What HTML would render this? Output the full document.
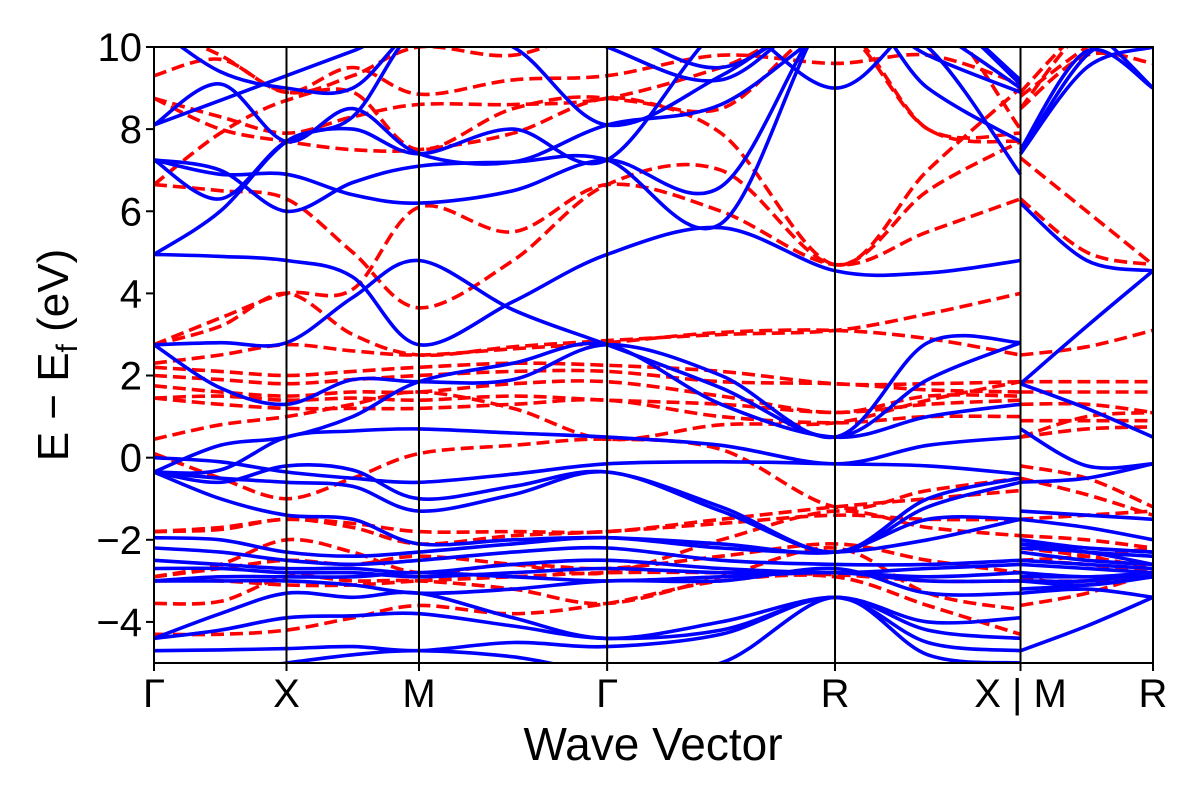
<!DOCTYPE html>
<html><head><meta charset="utf-8"><style>
body{margin:0;background:#fff;}
svg{display:block;font-family:"Liberation Sans","DejaVu Sans",sans-serif;}
</style></head><body>
<svg id="chart" width="1200" height="800" viewBox="0 0 1200 800" xmlns="http://www.w3.org/2000/svg">
<defs><clipPath id="plotclip"><rect x="154" y="47" width="999" height="616"/></clipPath></defs>
<rect x="0" y="0" width="1200" height="800" fill="#fff"/>
<g id="bands" clip-path="url(#plotclip)"></g>
<g id="vlines"></g>
<rect x="154" y="47" width="999" height="616" fill="none" stroke="#000" stroke-width="2"/>
<g id="yaxis"></g>
<g id="xaxis"></g>
<text x="653" y="760" font-size="46" text-anchor="middle">Wave Vector</text>
<text transform="translate(68,355) rotate(-90)" font-size="44" text-anchor="middle">E − E<tspan font-size="30" dy="9">f</tspan><tspan dy="-9"> (eV)</tspan></text>
</svg>
<script>
// k-path (two disconnected paths; break between index 10 and 11)
const kTicks = ["Γ","X","M","Γ","R","X | M","R"];
const kTickPos = [0,1,2,3.42,5.14,6.54,7.54];
const kPath = [0,0.5,1,1.5,2,2.71,3.42,4.28,5.14,5.84,6.54,6.54,7.04,7.54];
const yTicks = [10,8,6,4,2,0,-2,-4];
const blueBands = [
[8.1,9.1,7.7,8.5,7.4,7.2,8.1,8.6,10.5,11,9.1,7.4,9.8,10.5],
[7.25,6.3,7.7,8.0,7.4,8.0,7.25,10.5,11.5,10.5,9.0,7.5,9.9,9.0],
[10.5,10.5,10.5,11,11,11,11,10.8,9.0,10.8,11,11,10.5,9.0],
[7.25,6.9,6.9,6.4,6.2,6.5,7.25,6.6,11,10,6.9,6.2,4.8,4.55],
[7.25,7.0,6.0,6.7,7.1,7.2,7.25,5.7,11,9,7.7,1.8,3.2,4.55],
[4.95,6.0,7.7,8.3,10.5,11,10,9.2,11,9.8,8.9,1.8,1.2,0.5],
[4.95,4.9,4.8,4.4,2.75,3.8,4.95,5.6,4.55,4.5,4.8,0.7,-0.2,-0.15],
[2.75,2.8,2.8,3.9,4.8,3.6,2.75,1.7,0.5,1.9,2.8,-0.6,-0.5,-0.15],
[2.75,1.7,1.3,1.9,1.85,1.9,2.75,2.0,0.5,2.8,2.8,-1.3,-1.4,-1.5],
[-0.35,0.3,0.5,1.0,1.85,2.3,2.75,1.3,0.5,1.0,1.3,-1.5,-1.7,-2.0],
[-0.35,-0.3,0.5,0.65,0.7,0.6,0.5,0.3,-0.15,0.3,0.5,-2.0,-2.2,-2.3],
[-0.35,-0.6,-0.2,-0.3,-1.0,-0.7,-0.35,-1.2,-2.3,-1.0,-0.5,-2.1,-2.3,-2.4],
[-0.35,-0.5,-0.6,-0.7,-1.3,-0.9,-0.35,-1.3,-2.3,-1.2,-0.6,-2.3,-2.5,-2.6],
[0.0,-0.1,-0.35,-0.5,-0.6,-0.4,-0.15,-0.1,-0.15,-0.2,-0.4,-2.6,-2.7,-2.8],
[-0.35,-1.0,-1.4,-1.5,-2.1,-2.0,-1.95,-2.1,-2.3,-1.5,-1.5,-2.8,-2.9,-2.8],
[-1.95,-2.0,-2.3,-2.4,-2.3,-2.1,-1.95,-2.2,-2.3,-2.0,-1.5,-3.0,-3.1,-2.9],
[-2.2,-2.3,-2.5,-2.6,-2.5,-2.3,-2.2,-2.5,-2.6,-2.6,-2.5,-3.3,-3.2,-3.4],
[-2.5,-2.6,-2.7,-2.7,-2.8,-2.6,-2.5,-2.7,-2.8,-2.7,-2.6,-4.7,-4.1,-3.4],
[-2.7,-2.7,-2.8,-2.8,-2.9,-2.8,-2.7,-2.8,-2.8,-2.9,-2.8,-2.2,-2.3,-2.6],
[-3.0,-2.9,-2.9,-2.9,-2.8,-2.9,-3.0,-2.9,-2.8,-3.0,-3.0,-2.5,-2.6,-2.7],
[-3.0,-3.0,-3.0,-3.1,-3.3,-3.2,-3.0,-3.0,-2.7,-3.3,-3.3,-2.9,-2.9,-2.9],
[-4.4,-3.8,-3.3,-3.4,-3.3,-3.9,-4.4,-4.0,-3.4,-4.0,-3.9,-2.1,-2.2,-2.3],
[-4.4,-4.2,-3.9,-3.85,-3.8,-4.1,-4.4,-4.2,-3.4,-4.2,-4.4,-3.2,-3.1,-2.9],
[-4.7,-4.68,-4.65,-4.6,-4.7,-4.5,-4.6,-4.3,-3.4,-4.5,-4.7,-3.0,-3.0,-2.8],
[-5.3,-5.2,-5.0,-4.8,-4.7,-4.85,-5.2,-5.0,-3.4,-4.8,-5.0,-5.5,-5.3,-5.2],
[8.1,8.7,9.3,9.9,10.5,10,8.1,9.3,11,11,9.2,7.4,9.5,10],
[10.5,9.4,9.0,9.0,10.5,11,10.5,9.5,11,11,9.1,10.5,10.5,10.5]
];
const redBands = [
[9.3,9.7,8.9,9.5,8.85,9.2,9.3,9.8,9.6,9.8,9.1,8.5,9.8,9.6],
[8.75,8.3,7.9,8.3,8.6,8.6,8.75,9.5,10.5,8,7.9,8.9,10.5,11],
[8.75,8.0,7.7,7.5,7.5,7.9,8.75,8.5,10.5,8,7.7,8.5,10.5,11],
[6.65,7.9,8.7,8.9,7.5,8.5,8.75,7.9,4.7,7.0,9.0,7.3,6.0,4.7],
[6.65,6.5,6.3,5.0,3.65,4.8,6.65,7.0,4.7,6.5,7.7,6.3,5.0,4.7],
[2.75,3.4,4.0,4.1,6.1,5.5,6.65,6.0,4.7,5.5,6.3,2.5,2.7,3.1],
[2.75,3.2,4.0,3.0,2.5,2.7,2.85,3.0,3.1,3.5,4.0,0.5,1.0,1.1],
[2.3,2.5,2.75,2.6,2.5,2.65,2.8,3.05,3.1,2.9,2.5,1.85,1.85,1.85],
[2.2,2.1,2.0,2.1,2.2,2.3,2.25,2.1,1.8,1.8,1.85,1.6,1.6,1.6],
[2.0,1.9,1.8,1.9,2.0,2.1,2.1,1.85,1.8,1.65,1.6,1.3,1.3,1.1],
[1.75,1.6,1.5,1.6,1.6,1.8,1.85,1.5,1.1,1.5,1.5,0.9,0.9,0.9],
[1.45,1.5,1.4,1.45,1.4,1.5,1.4,1.3,1.1,1.3,1.4,0.5,0.7,0.75],
[1.45,1.3,1.2,1.2,1.2,1.3,1.4,1.0,0.85,1.0,1.0,-0.2,-0.5,-1.2],
[0.45,0.8,1.0,1.3,1.6,1.2,0.45,0.8,0.85,1.4,1.85,-0.5,-0.9,-1.4],
[0.1,-0.5,-1.0,-0.5,0.1,0.3,0.45,0.2,-1.2,-0.8,-0.5,-1.5,-1.4,-1.3],
[-1.8,-1.7,-1.5,-1.6,-1.8,-1.8,-1.8,-1.5,-1.2,-1.0,-0.8,-1.9,-2.0,-2.2],
[-1.8,-1.75,-1.5,-1.7,-2.1,-1.9,-1.8,-1.6,-1.4,-1.5,-1.5,-2.5,-2.4,-2.2],
[-2.9,-2.7,-2.5,-2.6,-2.4,-2.6,-2.8,-2.0,-1.3,-1.7,-1.9,-2.9,-3.1,-2.7],
[-2.9,-2.6,-2.0,-2.3,-2.8,-2.6,-2.7,-2.4,-2.1,-2.5,-2.8,-3.6,-3.3,-2.8],
[-3.55,-3.5,-2.9,-3.0,-3.0,-3.2,-3.55,-2.9,-2.2,-3.3,-3.7,-2.5,-2.6,-2.8],
[-4.3,-4.3,-4.2,-3.9,-3.6,-3.8,-3.55,-3.0,-2.9,-3.6,-4.3,-3.0,-3.0,-2.9],
[-3.0,-3.0,-3.1,-3.1,-3.0,-2.9,-2.8,-2.8,-2.85,-3.0,-3.0,-2.2,-2.4,-2.7],
[10.5,9.8,8.9,9.3,10,9.8,10.5,10.5,10.5,11,8.0,8.8,10,11]
];
const NS="http://www.w3.org/2000/svg";
const X0=154,X1=1153,Y0=663,Y1=47,EMIN=-5,EMAX=10,KMAX=7.54;
function xs(k){return X0+(X1-X0)*k/KMAX;}
function ys(e){return Y0-(Y0-Y1)*(e-EMIN)/(EMAX-EMIN);}
function smoothPath(ks,es){
  const p=ks.map((k,i)=>[xs(k),ys(es[i])]);
  let d="M"+p[0][0].toFixed(1)+","+p[0][1].toFixed(1);
  for(let i=0;i<p.length-1;i++){
    const p0=p[Math.max(0,i-1)],p1=p[i],p2=p[i+1],p3=p[Math.min(p.length-1,i+2)];
    const c1=[p1[0]+(p2[0]-p0[0])/6,p1[1]+(p2[1]-p0[1])/6];
    const c2=[p2[0]-(p3[0]-p1[0])/6,p2[1]-(p3[1]-p1[1])/6];
    d+=" C"+c1[0].toFixed(1)+","+c1[1].toFixed(1)+" "+c2[0].toFixed(1)+","+c2[1].toFixed(1)+" "+p2[0].toFixed(1)+","+p2[1].toFixed(1);
  }
  return d;
}
const g=document.getElementById("bands");
function drawBands(bands,color,dash,prefix){
  bands.forEach((b,bi)=>{
    const parts=[[kPath.slice(0,11),b.slice(0,11)],[kPath.slice(11),b.slice(11)]];
    parts.forEach((pt,pi)=>{
      const el=document.createElementNS(NS,"path");
      el.setAttribute("d",smoothPath(pt[0],pt[1]));
      el.setAttribute("fill","none");
      el.setAttribute("stroke",color);
      el.setAttribute("stroke-width","3.6");
      if(dash)el.setAttribute("stroke-dasharray",dash);
      
      
      g.appendChild(el);
    });
  });
}
drawBands(redBands,"#ff0000","13,6","spin-down");
drawBands(blueBands,"#0000ff",null,"spin-up");
const vl=document.getElementById("vlines");
const xa=document.getElementById("xaxis");
kTickPos.forEach((k,i)=>{
  const x=xs(k);
  if(i>0&&i<kTickPos.length-1){
    const l=document.createElementNS(NS,"line");
    l.setAttribute("x1",x);l.setAttribute("x2",x);l.setAttribute("y1",Y1);l.setAttribute("y2",Y0);
    l.setAttribute("stroke","#000");l.setAttribute("stroke-width","2");
    
    
    vl.appendChild(l);
  }
  const t=document.createElementNS(NS,"line");
  t.setAttribute("x1",x);t.setAttribute("x2",x);t.setAttribute("y1",Y0);t.setAttribute("y2",Y0+8);
  t.setAttribute("stroke","#000");t.setAttribute("stroke-width","2");
  
  
  xa.appendChild(t);
  const tx=document.createElementNS(NS,"text");
  tx.setAttribute("x",x);tx.setAttribute("y",707);
  tx.setAttribute("font-size","40");tx.setAttribute("text-anchor","middle");
  tx.textContent=kTicks[i];
  
  
  xa.appendChild(tx);
});
const ya=document.getElementById("yaxis");
yTicks.forEach((v,i)=>{
  const y=ys(v);
  const t=document.createElementNS(NS,"line");
  t.setAttribute("x1",X0-8);t.setAttribute("x2",X0);t.setAttribute("y1",y);t.setAttribute("y2",y);
  t.setAttribute("stroke","#000");t.setAttribute("stroke-width","2");
  
  
  ya.appendChild(t);
  const tx=document.createElementNS(NS,"text");
  tx.setAttribute("x",X0-12);tx.setAttribute("y",y+14);
  tx.setAttribute("font-size","40");tx.setAttribute("text-anchor","end");
  tx.textContent=v<0?"−"+Math.abs(v):String(v);
  
  
  ya.appendChild(tx);
});
</script>
</body></html>
